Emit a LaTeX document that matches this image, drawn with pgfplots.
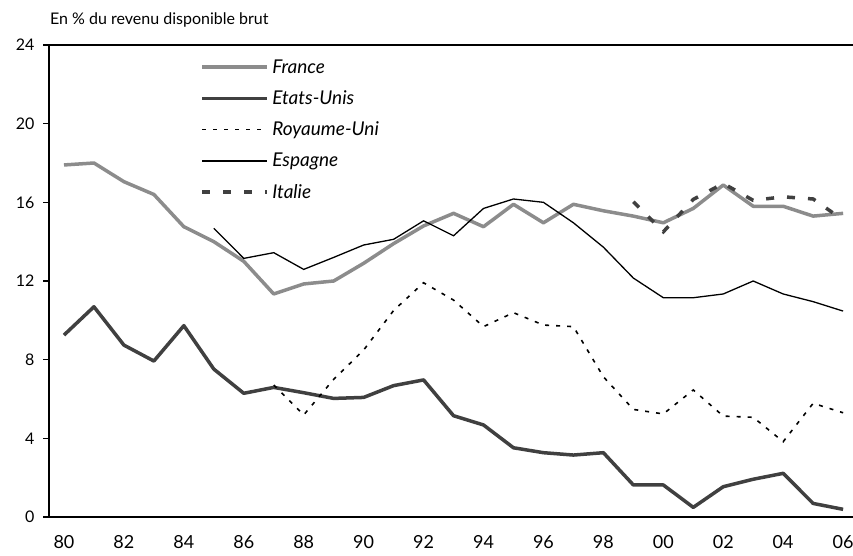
\documentclass[border=0pt]{standalone}
\usepackage{fontspec}
\setmainfont{Lato}
\usepackage{pgfplots}
\pgfplotsset{compat=1.18}
\definecolor{frgray}{RGB}{140,140,140}
\definecolor{usgray}{RGB}{64,64,64}
\begin{document}
\begin{tikzpicture}[x=1pt,y=1pt]
\useasboundingbox (0,0) rectangle (853,555);
\node[anchor=west, font=\fontsize{16}{18}\selectfont, inner sep=0pt] at (50,535) {En \% du revenu disponible brut};
\begin{axis}[
  at={(49pt,38pt)}, anchor=south west,
  scale only axis, width=804pt, height=472pt,
  xmin=1979.5, xmax=2006.33, ymin=0, ymax=24,
  axis lines*=left,
  axis line style={line width=1.5pt, black},
  clip=false,
  ytick={0,4,...,24},
  ytick align=outside,
  major tick length=6pt,
  ytick style={line width=1.2pt, black},
  xtick={1980,1982,...,2006},
  xticklabels={80,82,84,86,88,90,92,94,96,98,00,02,04,06},
  xtick style={draw=none},
  minor xtick={1981.5,1983.5,...,2005.5},
  minor tick length=7pt,
  minor x tick style={line width=1.2pt, black},
  xticklabel shift=16pt,
  yticklabel style={font=\fontsize{16}{18}\selectfont, xshift=-5pt},
  xticklabel style={font=\fontsize{18}{20}\selectfont, inner ysep=2pt},
  /pgf/number format/assume math mode=true,
  legend style={at={(rel axis cs:0.188,0.974)}, anchor=north west, draw=none, fill=none,
    font=\itshape\fontsize{19}{22}\selectfont, row sep=12pt, inner sep=0pt,
    cells={anchor=west}, nodes={inner xsep=3.5pt}},
  legend image code/.code={\draw[#1] (0pt,0pt) -- (65pt,0pt);},
  after end axis/.code={\draw[line width=1.2pt, black] (rel axis cs:0,1) -- (rel axis cs:1,1);},
]
\addplot[frgray, line width=3.5pt, line join=round] coordinates {
(1980,17.9)(1981,18.0)(1982,17.05)(1983,16.4)(1984,14.76)(1985,14.0)(1986,13.0)
(1987,11.34)(1988,11.85)(1989,12.0)(1990,12.9)(1991,13.9)(1992,14.8)(1993,15.44)
(1994,14.76)(1995,15.9)(1996,14.96)(1997,15.9)(1998,15.57)(1999,15.3)(2000,14.96)
(2001,15.69)(2002,16.88)(2003,15.8)(2004,15.8)(2005,15.3)(2006,15.44)};
\addlegendentry{France}
\addplot[usgray, line width=3.5pt, line join=round] coordinates {
(1980,9.25)(1981,10.69)(1982,8.74)(1983,7.93)(1984,9.73)(1985,7.52)(1986,6.29)
(1987,6.59)(1988,6.32)(1989,6.03)(1990,6.08)(1991,6.68)(1992,6.97)(1993,5.15)
(1994,4.68)(1995,3.52)(1996,3.27)(1997,3.15)(1998,3.27)(1999,1.63)(2000,1.63)
(2001,0.49)(2002,1.54)(2003,1.92)(2004,2.22)(2005,0.69)(2006,0.39)};
\addlegendentry{Etats-Unis}
\addplot[black, line width=1.6pt, dash pattern=on 4pt off 7pt] coordinates {
(1987,6.71)(1988,5.19)(1989,7.0)(1990,8.49)(1991,10.5)(1992,11.91)(1993,11.03)
(1994,9.68)(1995,10.39)(1996,9.76)(1997,9.68)(1998,7.13)(1999,5.47)(2000,5.24)
(2001,6.46)(2002,5.13)(2003,5.07)(2004,3.83)(2005,5.78)(2006,5.3)};
\addlegendentry{Royaume-Uni}
\addplot[black, line width=1.3pt] coordinates {
(1985,14.68)(1986,13.15)(1987,13.44)(1988,12.59)(1989,13.2)(1990,13.83)(1991,14.12)
(1992,15.06)(1993,14.3)(1994,15.69)(1995,16.17)(1996,16.0)(1997,14.96)(1998,13.72)
(1999,12.15)(2000,11.15)(2001,11.15)(2002,11.34)(2003,12.0)(2004,11.34)(2005,10.95)
(2006,10.47)};
\addlegendentry{Espagne}
\addplot[usgray, line width=3.5pt, dash pattern=on 8pt off 13pt] coordinates {
(1999,16.03)(2000,14.5)(2001,16.15)(2002,16.96)(2003,16.1)(2004,16.28)(2005,16.17)(2006,15.1)};
\addlegendentry{Italie}
\end{axis}
\end{tikzpicture}
\end{document}
